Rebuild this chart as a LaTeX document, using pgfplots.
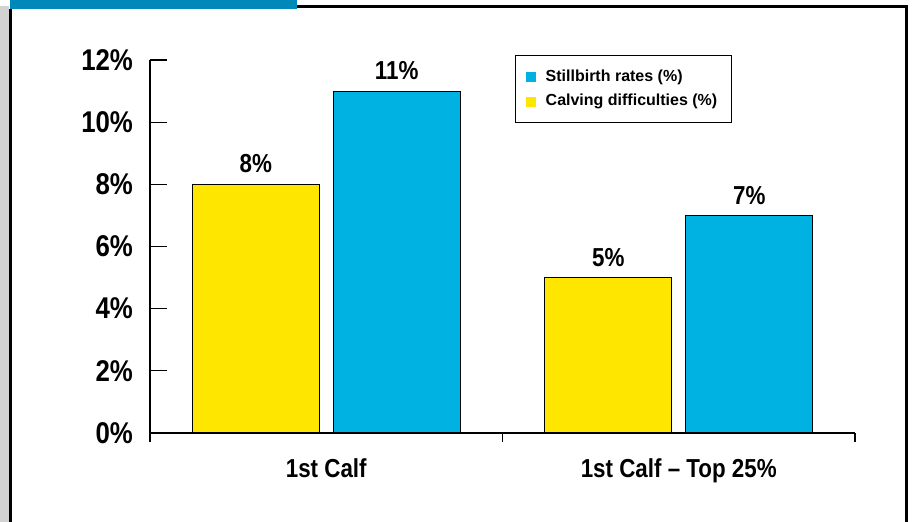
\documentclass[border=0pt]{standalone}
\usepackage{pgfplots}
\pgfplotsset{compat=1.18}
\usepackage{fontspec}
\setmainfont{Liberation Sans}[FakeStretch=0.86]
\newfontfamily\legfont{Liberation Sans}
\definecolor{barY}{RGB}{255,230,0}
\definecolor{barB}{RGB}{0,178,226}
\definecolor{topB}{RGB}{0,136,187}
\begin{document}
\begin{tikzpicture}
\begin{scope}[x=0.5pt,y=0.5pt]
\useasboundingbox (0,0) rectangle (915,522);
\fill[gray!35] (0,0) rectangle (9,516);
\fill[white] (9,0) rectangle (906,516);
\fill[topB] (10,522) rectangle (297,513);
\draw[black,line width=1.5pt] (10,0) -- (10,513);
\draw[black,line width=1.5pt] (297,515) -- (906,515) -- (906,0);
\end{scope}
\begin{axis}[
  at={(75pt,44.5pt)}, anchor=south west,
  scale only axis, width=352.5pt, height=186.5pt,
  xmin=0, xmax=2, ymin=0, ymax=12,
  axis x line=bottom, axis y line=left,
  axis line style={-, black, line width=0.6pt},
  tick align=inside,
  ytick={0,2,...,12},
  yticklabels={0\%,2\%,4\%,6\%,8\%,10\%,12\%},
  xtick={0.5,1.5},
  xticklabels={1st Calf,1st Calf -- Top 25\%},
  minor xtick={0,1,2},
  major tick length=8.5pt, minor tick length=4.5pt,
  tick style={black, line width=0.6pt},
  x tick style={draw=none},
  minor x tick style={draw=black, line width=0.6pt},
  yticklabel style={font=\bfseries\fontsize{15}{15}\selectfont, xshift=-5pt},
  xticklabel style={font=\bfseries\fontsize{13}{13}\selectfont, yshift=-1pt},
  ybar, bar width=0.36,
  nodes near coords={\pgfmathprintnumber[assume math mode=true]{\pgfplotspointmeta}\%},
  every node near coord/.append style={font=\bfseries\fontsize{13}{13}\selectfont, yshift=2pt},
  reverse legend,
  legend style={at={(0.518,1.013)}, anchor=north west, draw=black, line width=0.5pt,
    font=\legfont\bfseries\fontsize{8}{11}\selectfont, inner xsep=5pt, inner ysep=5pt,
    row sep=1pt},
  legend cell align=left,
  legend image code/.code={\path[#1,draw=none] (0pt,-2.5pt) rectangle (5pt,2.5pt); \path[draw=none,fill=none] (0pt,0pt) rectangle (8pt,0.1pt);},
]
\addplot[fill=barY, draw=black, line width=0.5pt, bar shift=-0.2] coordinates {(0.5,8) (1.5,5)};
\addlegendentry{Calving difficulties (\%)}
\addplot[fill=barB, draw=black, line width=0.5pt, bar shift=0.2] coordinates {(0.5,11) (1.5,7)};
\addlegendentry{Stillbirth rates (\%)}
\end{axis}
\end{tikzpicture}
\end{document}
